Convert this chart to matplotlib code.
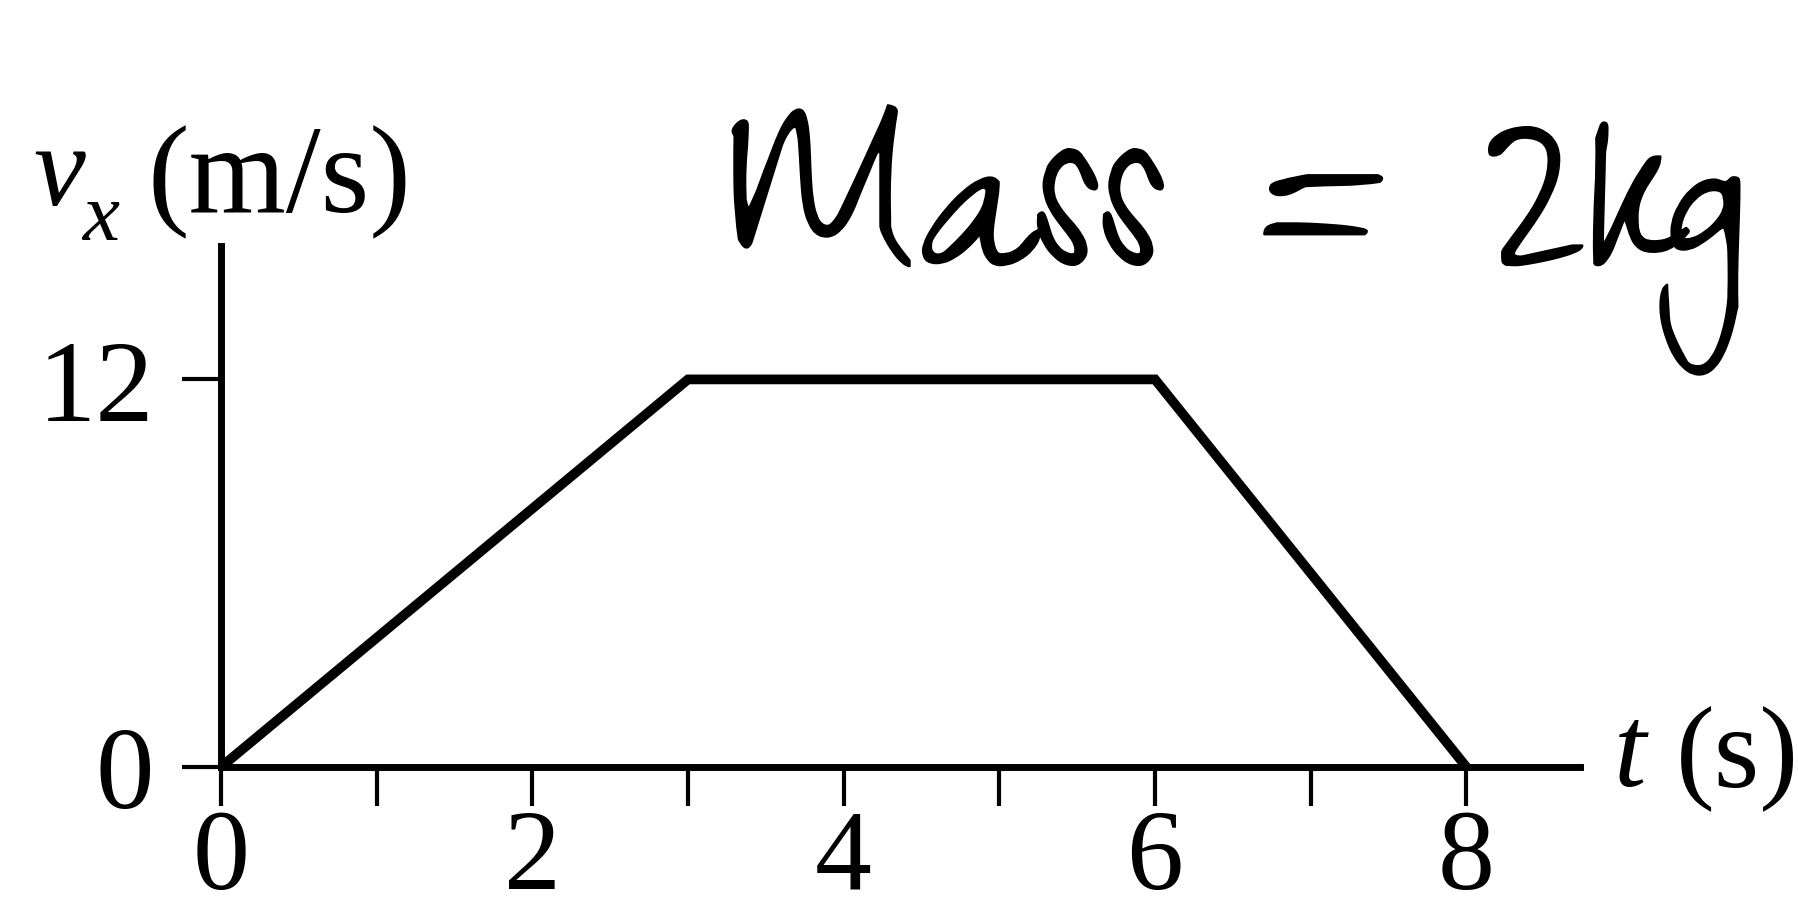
import matplotlib
matplotlib.use("Agg")
import matplotlib.pyplot as plt
import matplotlib.patheffects as pe
from matplotlib.font_manager import FontProperties

# velocity-time trace
t_s = [0, 3, 6, 8]
vx_ms = [0, 12, 12, 0]

x_ticks = [0, 1, 2, 3, 4, 5, 6, 7, 8]
x_tick_labels = ["0", "", "2", "", "4", "", "6", "", "8"]
y_ticks = [0, 12]
y_tick_labels = ["0", "12"]

W, H = 1799, 912
DPI = 100

SERIF = ["Tinos", "Liberation Serif", "DejaVu Serif"]


def serif(size, italic=False):
    return FontProperties(family=SERIF, style="italic" if italic else "normal", size=size)


fig = plt.figure(figsize=(W / DPI, H / DPI), dpi=DPI)
fig.patch.set_facecolor("white")


def fx(px):
    return px / W


def fy(py):
    return 1 - py / H


# axes box placed so the spines run from the origin out to the open ends
left, right, bottom, top = 221, 1580, 768, 247
ax = fig.add_axes([fx(left), fy(bottom), fx(right) - fx(left), fy(top) - fy(bottom)])
ax.set_xlim(0, 8.73)
ax.set_ylim(0, 16.13)

ax.plot(t_s, vx_ms, color="black", linewidth=7, solid_joinstyle="miter",
        solid_capstyle="butt", clip_on=False)

for side in ("top", "right"):
    ax.spines[side].set_visible(False)
for side in ("left", "bottom"):
    ax.spines[side].set_linewidth(5)
    ax.spines[side].set_color("black")

ax.set_xticks(x_ticks)
ax.set_xticklabels(x_tick_labels, fontproperties=serif(82))
ax.set_yticks(y_ticks)
ax.set_yticklabels(y_tick_labels, fontproperties=serif(84))
ax.tick_params(axis="both", direction="out", length=28, width=3, color="black")
ax.tick_params(axis="x", pad=2)
ax.tick_params(axis="y", pad=20)
ax.set_facecolor("none")

# axis names: v with subscript x, then the unit
fig.text(fx(33), fy(205), "v", fontproperties=serif(84, italic=True),
         ha="left", va="baseline")
fig.text(fx(82), fy(240), "x", fontproperties=serif(60, italic=True),
         ha="left", va="baseline")
fig.text(fx(148), fy(212), "(m/s)", fontproperties=serif(90), ha="left", va="baseline")
fig.text(fx(1614), fy(786), "t", fontproperties=serif(84, italic=True),
         ha="left", va="baseline")
fig.text(fx(1676), fy(786), "(s)", fontproperties=serif(84), ha="left", va="baseline")

# handwritten note
note = fig.text(fx(728), fy(266), "Mass = 2kg", fontsize=185, ha="left",
                va="baseline", family=["Zeyada", "DejaVu Sans"])
note.set_path_effects([pe.withStroke(linewidth=1.5, foreground="black")])

fig.savefig("out.png", dpi=DPI, facecolor="white")
